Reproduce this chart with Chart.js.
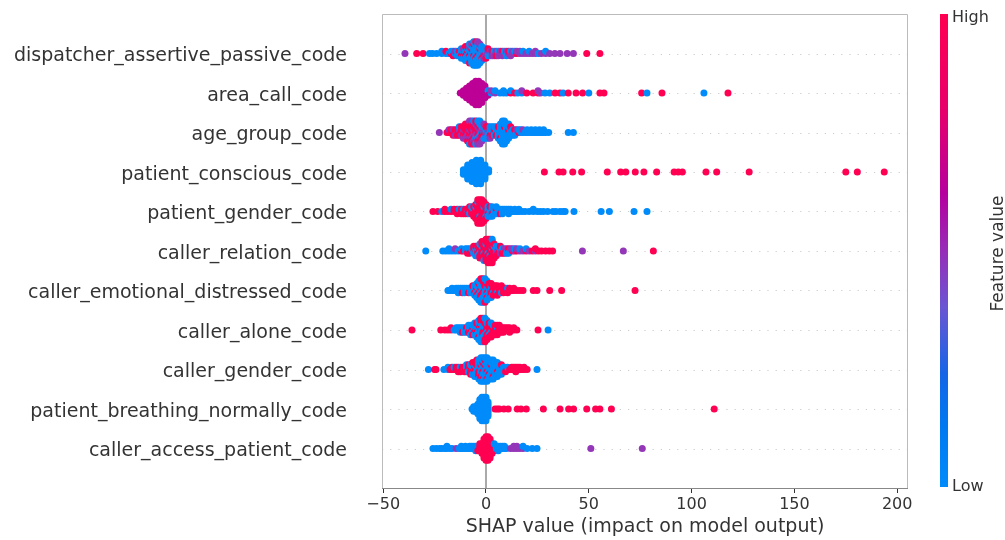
<!DOCTYPE html>
<html><head><meta charset="utf-8">
<script src="https://cdn.jsdelivr.net/npm/chart.js@4.4.1/dist/chart.umd.min.js"></script>
<style>html,body{margin:0;padding:0;background:#fff;}canvas{display:block;}</style>
</head><body>
<canvas id="c" width="1005" height="540"></canvas>
<script>
// ---------- DATA ----------
const features = [
  'dispatcher_assertive_passive_code','area_call_code','age_group_code','patient_conscious_code',
  'patient_gender_code','caller_relation_code','caller_emotional_distressed_code','caller_alone_code',
  'caller_gender_code','patient_breathing_normally_code','caller_access_patient_code'
];
const xTicks = [-50, 0, 50, 100, 150, 200];
// each entry: [SHAP value, feature-value colour of each point at that value]
// b = low, v = low-mid, p = mid, m = mid-high, r = high
const dispatcherAssertivePassiveCode = [
  [-39.4,'p'],[-33.7,'r'],[-30.6,'r'],[-27.5,'b'],[-26,'b'],[-24,'b'],[-21.5,'bb'],[-19.5,'br'],[-18,'b'],
  [-17,'rb'],[-16,'bbr'],[-15,'bp'],[-14,'rbb'],[-13,'brb'],[-12,'bbrbb'],[-11,'bbrpb'],[-10,'bbrbbrb'],
  [-9,'brbbbrb'],[-8,'bbrbbpbbr'],[-7,'bbbrbbbpb'],[-6,'bbrbbbbrbbb'],[-5,'bbbbrbbbbrb'],[-4,'bbrbbbbbbpb'],
  [-3,'bbbrbbbpb'],[-2,'bbbbrbb'],[-1,'pbrbp'],[0,'pbpbr'],[1,'ppbr'],[2,'ppb'],[3,'prp'],[4,'pbp'],[5,'ppr'],
  [6,'pbp'],[7,'pp'],[8,'prp'],[9,'pb'],[10,'ppb'],[11,'pr'],[12,'pbp'],[13,'pp'],[14,'pb'],[15,'rp'],
  [16.5,'pp'],[18,'pb'],[19.5,'p'],[21,'pb'],[22.5,'p'],[24,'pp'],[25.5,'b'],[27,'p'],[29,'pb'],[31,'p'],
  [33.5,'p'],[36,'p'],[39.5,'p'],[42.5,'p'],[49,'r'],[55.4,'r']
];
const areaCallCode = [
  [-12.5,'m'],[-11,'mmm'],[-9.5,'mmmmm'],[-8,'mmmmmmm'],[-6.5,'mmmmmmmmm'],[-5,'mmmmmmmmmmm'],
  [-3.5,'mmmmmmmmmmm'],[-2,'mmmmmmmmm'],[-0.5,'mmmmmm'],[1,'mbm'],[2.5,'bp'],[4.4,'pb'],[6.8,'b'],
  [8.5,'bb'],[10,'b'],[12,'rb'],[14,'r'],[15.5,'b'],[17.4,'bp'],[19.8,'r'],[22.9,'r'],[25.3,'rp'],
  [26.5,'p'],[28.7,'b'],[31,'b'],[33.6,'r'],[36,'r'],[37.5,'b'],[40,'r'],[43.8,'r'],[47,'r'],[50,'b'],
  [55.4,'r'],[57.4,'r'],[75.7,'r'],[78.3,'b'],[85.6,'r'],[106,'b'],[117.7,'r']
];
const ageGroupCode = [
  [-22.7,'p'],[-19,'r'],[-18,'rp'],[-17,'rr'],[-16,'rpr'],[-15,'rrp'],[-14,'prr'],[-13,'rprb'],[-12,'rrpr'],
  [-11,'rprrp'],[-10,'prrrpr'],[-9,'rrprprr'],[-8,'rprrprrpb'],[-7,'prrrprrpr'],[-6,'rpprrrpbr'],
  [-5,'rrprbpprb'],[-4,'prrpbrrbp'],[-3,'rpbrpbrbp'],[-2,'bprbrbp'],[-1,'bprbbp'],[0,'bbprb'],[1,'bpbrb'],
  [2,'bbrbp'],[3,'bbrb'],[4,'brbb'],[5,'bbrb'],[6,'bbbrb'],[7,'bbbbrbb'],[8,'bbbbbbbbb'],[9,'bbbrbbbbb'],
  [10,'bbbbbbb'],[11,'brbbbb'],[12,'bbbr'],[13,'bbb'],[14,'brb'],[15,'bp'],[16,'rb'],[17,'bb'],[18,'bp'],
  [19,'b'],[20,'bb'],[21,'b'],[22,'bb'],[23,'b'],[24,'bb'],[25,'b'],[26,'bb'],[27,'b'],[28,'bb'],[29,'b'],
  [30.5,'b'],[40,'b'],[42.5,'b']
];
const patientConsciousCode = [
  [-11,'bbb'],[-8.9,'bbbbbbb'],[-6.8,'bbbbbbbbb'],[-4.7,'bbbbbbbbbbb'],[-2.6,'bbbbbbbbbbb'],[-0.5,'bbbbbbb'],
  [1.3,'bb'],[28.4,'r'],[35.5,'r'],[37.5,'r'],[42.2,'r'],[46.5,'r'],[59,'r'],[65.5,'r'],[68,'r'],[72.6,'r'],
  [76.8,'r'],[83,'r'],[91.5,'r'],[93.5,'r'],[95.5,'r'],[107,'r'],[112.2,'r'],[128,'r'],[175,'r'],[180.6,'r'],
  [193.7,'r']
];
const patientGenderCode = [
  [-25.8,'r'],[-23.5,'r'],[-21.5,'b'],[-20,'rr'],[-18.5,'r'],[-17,'rb'],[-15.5,'rr'],[-14,'rrr'],[-13,'rb'],
  [-12,'rrr'],[-11,'rbr'],[-10,'rrr'],[-9,'brr'],[-8,'rrbr'],[-7,'rrrb'],[-6,'rbrrr'],[-5,'rrrbrrr'],
  [-4,'rrrrrrrbrrr'],[-3,'rrrrbrrrrrr'],[-2,'rrrrrrrrrrr'],[-1,'rrrbrrrrr'],[0,'rrrrbrr'],[1,'bbrbb'],
  [2,'bbbrb'],[3,'bbrbb'],[4,'bbb'],[5,'brbb'],[6,'bbb'],[7,'bbr'],[8,'bbb'],[9,'bb'],[10,'bb'],[11,'bbb'],
  [12,'bb'],[13,'b'],[14,'bb'],[15,'b'],[16,'bb'],[17.5,'b'],[19,'b'],[21,'b'],[23,'bb'],[25,'b'],[26.5,'b'],
  [28,'b'],[30,'b'],[32.6,'b'],[34,'b'],[36,'b'],[37.5,'b'],[38.5,'b'],[42.8,'b'],[56,'b'],[60,'b'],[72,'b'],
  [78.3,'b']
];
const callerRelationCode = [
  [-29.3,'b'],[-21,'b'],[-19.5,'b'],[-18,'bb'],[-16.5,'b'],[-15,'bp'],[-13.5,'b'],[-12,'rb'],[-11,'r'],
  [-10,'bb'],[-9,'rbr'],[-8,'bbr'],[-7,'rb'],[-6,'brbr'],[-5,'rbbrb'],[-4,'rbrrb'],[-3,'rrbrrbr'],
  [-2,'rrrbrrrr'],[-1,'rrbrrrrrb'],[0,'rrrrrbrrrr'],[1,'rrbrrrrrrrr'],[2,'rrrrbrrrrrr'],[3,'rbrrrrrrrbr'],
  [4,'rrrbrrr'],[5,'rbpbr'],[6,'bprb'],[7,'rbpr'],[8,'pbr'],[9,'bpr'],[10,'rpb'],[11,'prb'],[12,'bp'],
  [13,'rp'],[14,'pb'],[15,'rp'],[16.5,'pb'],[18,'p'],[19.5,'rb'],[21,'p'],[22.5,'r'],[24,'pr'],[25.5,'r'],
  [27,'r'],[29,'r'],[30.8,'r'],[32.4,'r'],[46.9,'p'],[66.8,'p'],[81.4,'r']
];
const callerEmotionalDistressedCode = [
  [-18.5,'b'],[-17.5,'b'],[-16.5,'bb'],[-15.5,'b'],[-14.5,'bb'],[-13.5,'bbb'],[-12.5,'bb'],[-11.5,'bbr'],
  [-10.5,'bbb'],[-9.5,'bb'],[-8.5,'bbr'],[-7.5,'bbb'],[-6.5,'bbbr'],[-5.5,'bbrbb'],[-4.5,'brbbrbb'],
  [-3.5,'bbrbbrbbb'],[-2.5,'brbbrbrbbrb'],[-1.5,'bbrbrbbrbrb'],[-0.5,'rbbrbrbrbbr'],[0.5,'bbrbbrrbb'],
  [1.5,'rbbrbrb'],[2.5,'rbrbrrb'],[3.5,'rrbrr'],[4.5,'rrrr'],[5.5,'rrbrr'],[6.5,'rrr'],[7.5,'rrbr'],
  [8.5,'rrr'],[9.5,'rr'],[10.5,'rbr'],[11.5,'rr'],[12.5,'r'],[13.5,'rr'],[15,'r'],[16.5,'r'],[18,'r'],
  [23,'r'],[24.8,'r'],[31,'r'],[36.8,'r'],[72.5,'r']
];
const callerAloneCode = [
  [-36,'r'],[-22,'r'],[-20,'r'],[-18.5,'r'],[-17,'rr'],[-15.5,'b'],[-14.5,'bb'],[-13.5,'bb'],[-12.5,'bbb'],
  [-11.5,'bbr'],[-10.5,'bbb'],[-9.5,'brb'],[-8.5,'bbrb'],[-7.5,'bbrbb'],[-6.5,'brbbr'],[-5.5,'bbrbbb'],
  [-4.5,'bbrbbrb'],[-3.5,'bbbrbbrbb'],[-2.5,'rbbrbbbrbrb'],[-1.5,'bbrbrbbrbrb'],[-0.5,'rbrbbrbrrbr'],
  [0.5,'rrbrrbrbr'],[1.5,'brrrbrr'],[2.5,'rrbrrbr'],[3.5,'rrrbr'],[4.5,'rrrrr'],[5.5,'rbrrr'],[6.5,'rrrr'],
  [7.5,'rrr'],[8.5,'rrr'],[9.5,'rr'],[10.5,'rr'],[11.5,'rrr'],[12.5,'r'],[13.5,'rr'],[15,'r'],[25.3,'r'],
  [30.2,'b']
];
const callerGenderCode = [
  [-28,'b'],[-25,'r'],[-24.3,'r'],[-20.5,'b'],[-18.5,'bb'],[-17.5,'r'],[-16.5,'rr'],[-15.5,'rb'],[-14.5,'rr'],
  [-13.5,'rrr'],[-12.5,'rbr'],[-11.5,'rr'],[-10.5,'brr'],[-9.5,'rbrb'],[-8.5,'rrbr'],[-7.5,'brrbr'],
  [-6.5,'rbrbbr'],[-5.5,'brrbbrb'],[-4.5,'rbbrbrbr'],[-3.5,'bbrbrbrbb'],[-2.5,'rbbrbbrbrbb'],
  [-1.5,'bbrbbrbbrbb'],[-0.5,'bbbrbbbrbbb'],[0.5,'bbrbbbbbrbb'],[1.5,'bbbbrbbbb'],[2.5,'bbbrbbbbb'],
  [3.5,'bbbbbbrbb'],[4.5,'bbbbbbb'],[5.5,'bbrbbbb'],[6.5,'bbbbb'],[7.5,'bbbrb'],[8.5,'bbb'],[9.5,'bbr'],
  [10.5,'rb'],[11.5,'r'],[12.5,'rr'],[13.5,'rr'],[14.5,'rrr'],[15.5,'rr'],[16.5,'rr'],[17.5,'r'],[18.5,'rr'],
  [20,'r'],[24.8,'b']
];
const patientBreathingNormallyCode = [
  [-6.8,'b'],[-6,'bbb'],[-5,'bbb'],[-4,'bbbbb'],[-3,'bbbbbbbbb'],[-2,'bbbbbbbbbbb'],[-1,'bbbbbbbbbbb'],
  [0,'bbbbbbbbbbb'],[1,'bbbbbbb'],[4.4,'r'],[5.5,'r'],[6.5,'r'],[8.7,'r'],[10.8,'r'],[15.2,'r'],[17,'r'],
  [19.6,'r'],[27.9,'r'],[36,'r'],[40.2,'r'],[42.6,'r'],[49,'r'],[53.3,'r'],[55.4,'r'],[61,'r'],[111,'r']
];
const callerAccessPatientCode = [
  [-25.8,'b'],[-24.1,'b'],[-22.5,'b'],[-21.5,'b'],[-20,'b'],[-19,'bb'],[-17.5,'b'],[-16.5,'b'],[-14.5,'p'],
  [-13,'b'],[-12,'bb'],[-11,'b'],[-10,'bb'],[-9,'b'],[-8,'bb'],[-7,'bb'],[-6,'bb'],[-5,'bbb'],[-4,'bbr'],
  [-3,'rrrr'],[-2,'rrrrr'],[-1,'rrrrrrrrr'],[0,'rrrrrrrrrrr'],[1,'rrrrrrrrrrr'],[2,'rrrrrrrrr'],[3,'rrrrr'],
  [4,'rrrb'],[5,'bb'],[6,'bbb'],[7,'bb'],[8,'bb'],[9,'bb'],[10,'b'],[12,'p'],[13.5,'pp'],[15,'pp'],
  [16.5,'p'],[18,'pb'],[20,'b'],[22.5,'b'],[24.8,'b'],[51,'p'],[76,'p']
];
const featureRows = [
  dispatcherAssertivePassiveCode, areaCallCode, ageGroupCode, patientConsciousCode, patientGenderCode,
  callerRelationCode, callerEmotionalDistressedCode, callerAloneCode, callerGenderCode,
  patientBreathingNormallyCode, callerAccessPatientCode
];

// ---------- STYLE ----------
const COLORS = { b: '#008bfb', v: '#6a50d0', p: '#9436b8', m: '#bd0096', r: '#ff0052' };
const FONT = 'DejaVu Sans';
const nRows = features.length;

// beeswarm layout (same stacking rule as shap: alternate up/down, scaled to 0.36 row)
const points = [];
for (let r = nRows - 1; r >= 0; r--) {
  const base = nRows - 1 - r;
  const groups = featureRows[r];
  let maxLayer = 0;
  groups.forEach(([v, cs]) => { maxLayer = Math.max(maxLayer, Math.ceil((cs.length - 1) / 2)); });
  const step = 0.9 * 0.4 / (maxLayer + 1);
  groups.forEach(([v, cs]) => {
    for (let j = 0; j < cs.length; j++) {
      const off = Math.ceil(j / 2) * ((j % 2) * 2 - 1);
      points.push({ x: v, y: base + off * step, c: cs[j] });
    }
  });
}

const decor = {
  id: 'decor',
  beforeDatasetsDraw(chart) {
    const { ctx, chartArea: a, scales: { x, y } } = chart;
    ctx.save();
    ctx.strokeStyle = '#cccccc'; ctx.lineWidth = 1; ctx.setLineDash([1.2, 7]);
    for (let i = 0; i < nRows; i++) {
      const py = Math.round(y.getPixelForValue(i)) + 0.5;
      ctx.beginPath(); ctx.moveTo(a.left, py); ctx.lineTo(a.right, py); ctx.stroke();
    }
    ctx.setLineDash([]);
    ctx.strokeStyle = '#aaaaaa'; ctx.lineWidth = 2;
    const px = x.getPixelForValue(0);
    ctx.beginPath(); ctx.moveTo(px, a.top); ctx.lineTo(px, a.bottom); ctx.stroke();
    ctx.restore();
  },
  afterDraw(chart) {
    const { ctx, chartArea: a } = chart;
    ctx.save();
    // frame
    ctx.strokeStyle = '#bbbbbb'; ctx.lineWidth = 1;
    ctx.beginPath();
    ctx.moveTo(a.left + 0.5, a.bottom); ctx.lineTo(a.left + 0.5, a.top + 0.5);
    ctx.lineTo(a.right - 0.5, a.top + 0.5); ctx.lineTo(a.right - 0.5, a.bottom);
    ctx.stroke();
    ctx.strokeStyle = '#888888';
    ctx.beginPath(); ctx.moveTo(a.left, a.bottom + 0.5); ctx.lineTo(a.right, a.bottom + 0.5); ctx.stroke();
    // colour bar
    const cx = a.right + 32, cw = 8, ct = a.top, cb = a.bottom - 1;
    const g = ctx.createLinearGradient(0, ct, 0, cb);
    g.addColorStop(0, '#ff0052'); g.addColorStop(0.2, '#e8006b'); g.addColorStop(0.38, '#b5009e');
    g.addColorStop(0.5, '#972cb8'); g.addColorStop(0.62, '#6a55d3'); g.addColorStop(0.76, '#1565e6');
    g.addColorStop(0.87, '#0079f0'); g.addColorStop(1, '#008bfb');
    ctx.fillStyle = g; ctx.fillRect(cx, ct, cw, cb - ct);
    ctx.fillStyle = '#333333';
    ctx.font = '16px "' + FONT + '"'; ctx.textAlign = 'left'; ctx.textBaseline = 'middle';
    ctx.fillText('High', cx + cw + 4, ct + 4);
    ctx.fillText('Low', cx + cw + 4, cb);
    ctx.font = '17px "' + FONT + '"'; ctx.textAlign = 'center';
    ctx.translate(cx + 59, (ct + cb) / 2 + 3); ctx.rotate(-Math.PI / 2);
    ctx.fillText('Feature value', 0, 0);
    ctx.restore();
  }
};

new Chart(document.getElementById('c'), {
  type: 'scatter',
  data: { datasets: [{
    data: points,
    backgroundColor: (ctx) => COLORS[ctx.raw ? ctx.raw.c : 'b'],
    borderWidth: 0, pointRadius: 3.5, pointHoverRadius: 3.5
  }] },
  options: {
    responsive: false, animation: false, devicePixelRatio: 1,
    layout: { padding: { left: 0, top: 14, right: 97, bottom: 0 } },
    plugins: { legend: { display: false }, tooltip: { enabled: false } },
    scales: {
      x: {
        type: 'linear', min: -50.58, max: 205.25,
        afterBuildTicks: (s) => { s.ticks = xTicks.map(v => ({ value: v })); },
        afterFit: (s) => { s.height = 52; },
        grid: { drawOnChartArea: false, drawTicks: true, tickLength: 5, color: '#333333' },
        border: { display: false },
        ticks: { color: '#333333', font: { family: FONT, size: 16 }, padding: 2,
          callback: (v) => String(v).replace('-', '\u2212') },
        title: { display: true, text: 'SHAP value (impact on model output)', color: '#333333',
          font: { family: FONT, size: 19 }, padding: { top: 0, bottom: 2 } }
      },
      y: {
        type: 'linear', min: -1, max: nRows,
        afterBuildTicks: (s) => { s.ticks = features.map((f, i) => ({ value: i })); },
        afterFit: (s) => { s.width = 382; },
        grid: { display: false, drawTicks: true, tickLength: 35 },
        border: { display: false },
        ticks: { color: '#333333', font: { family: FONT, size: 19 }, padding: 0, labelOffset: 3,
          callback: (v) => features[nRows - 1 - v] }
      }
    }
  },
  plugins: [decor]
});
</script>
</body></html>
